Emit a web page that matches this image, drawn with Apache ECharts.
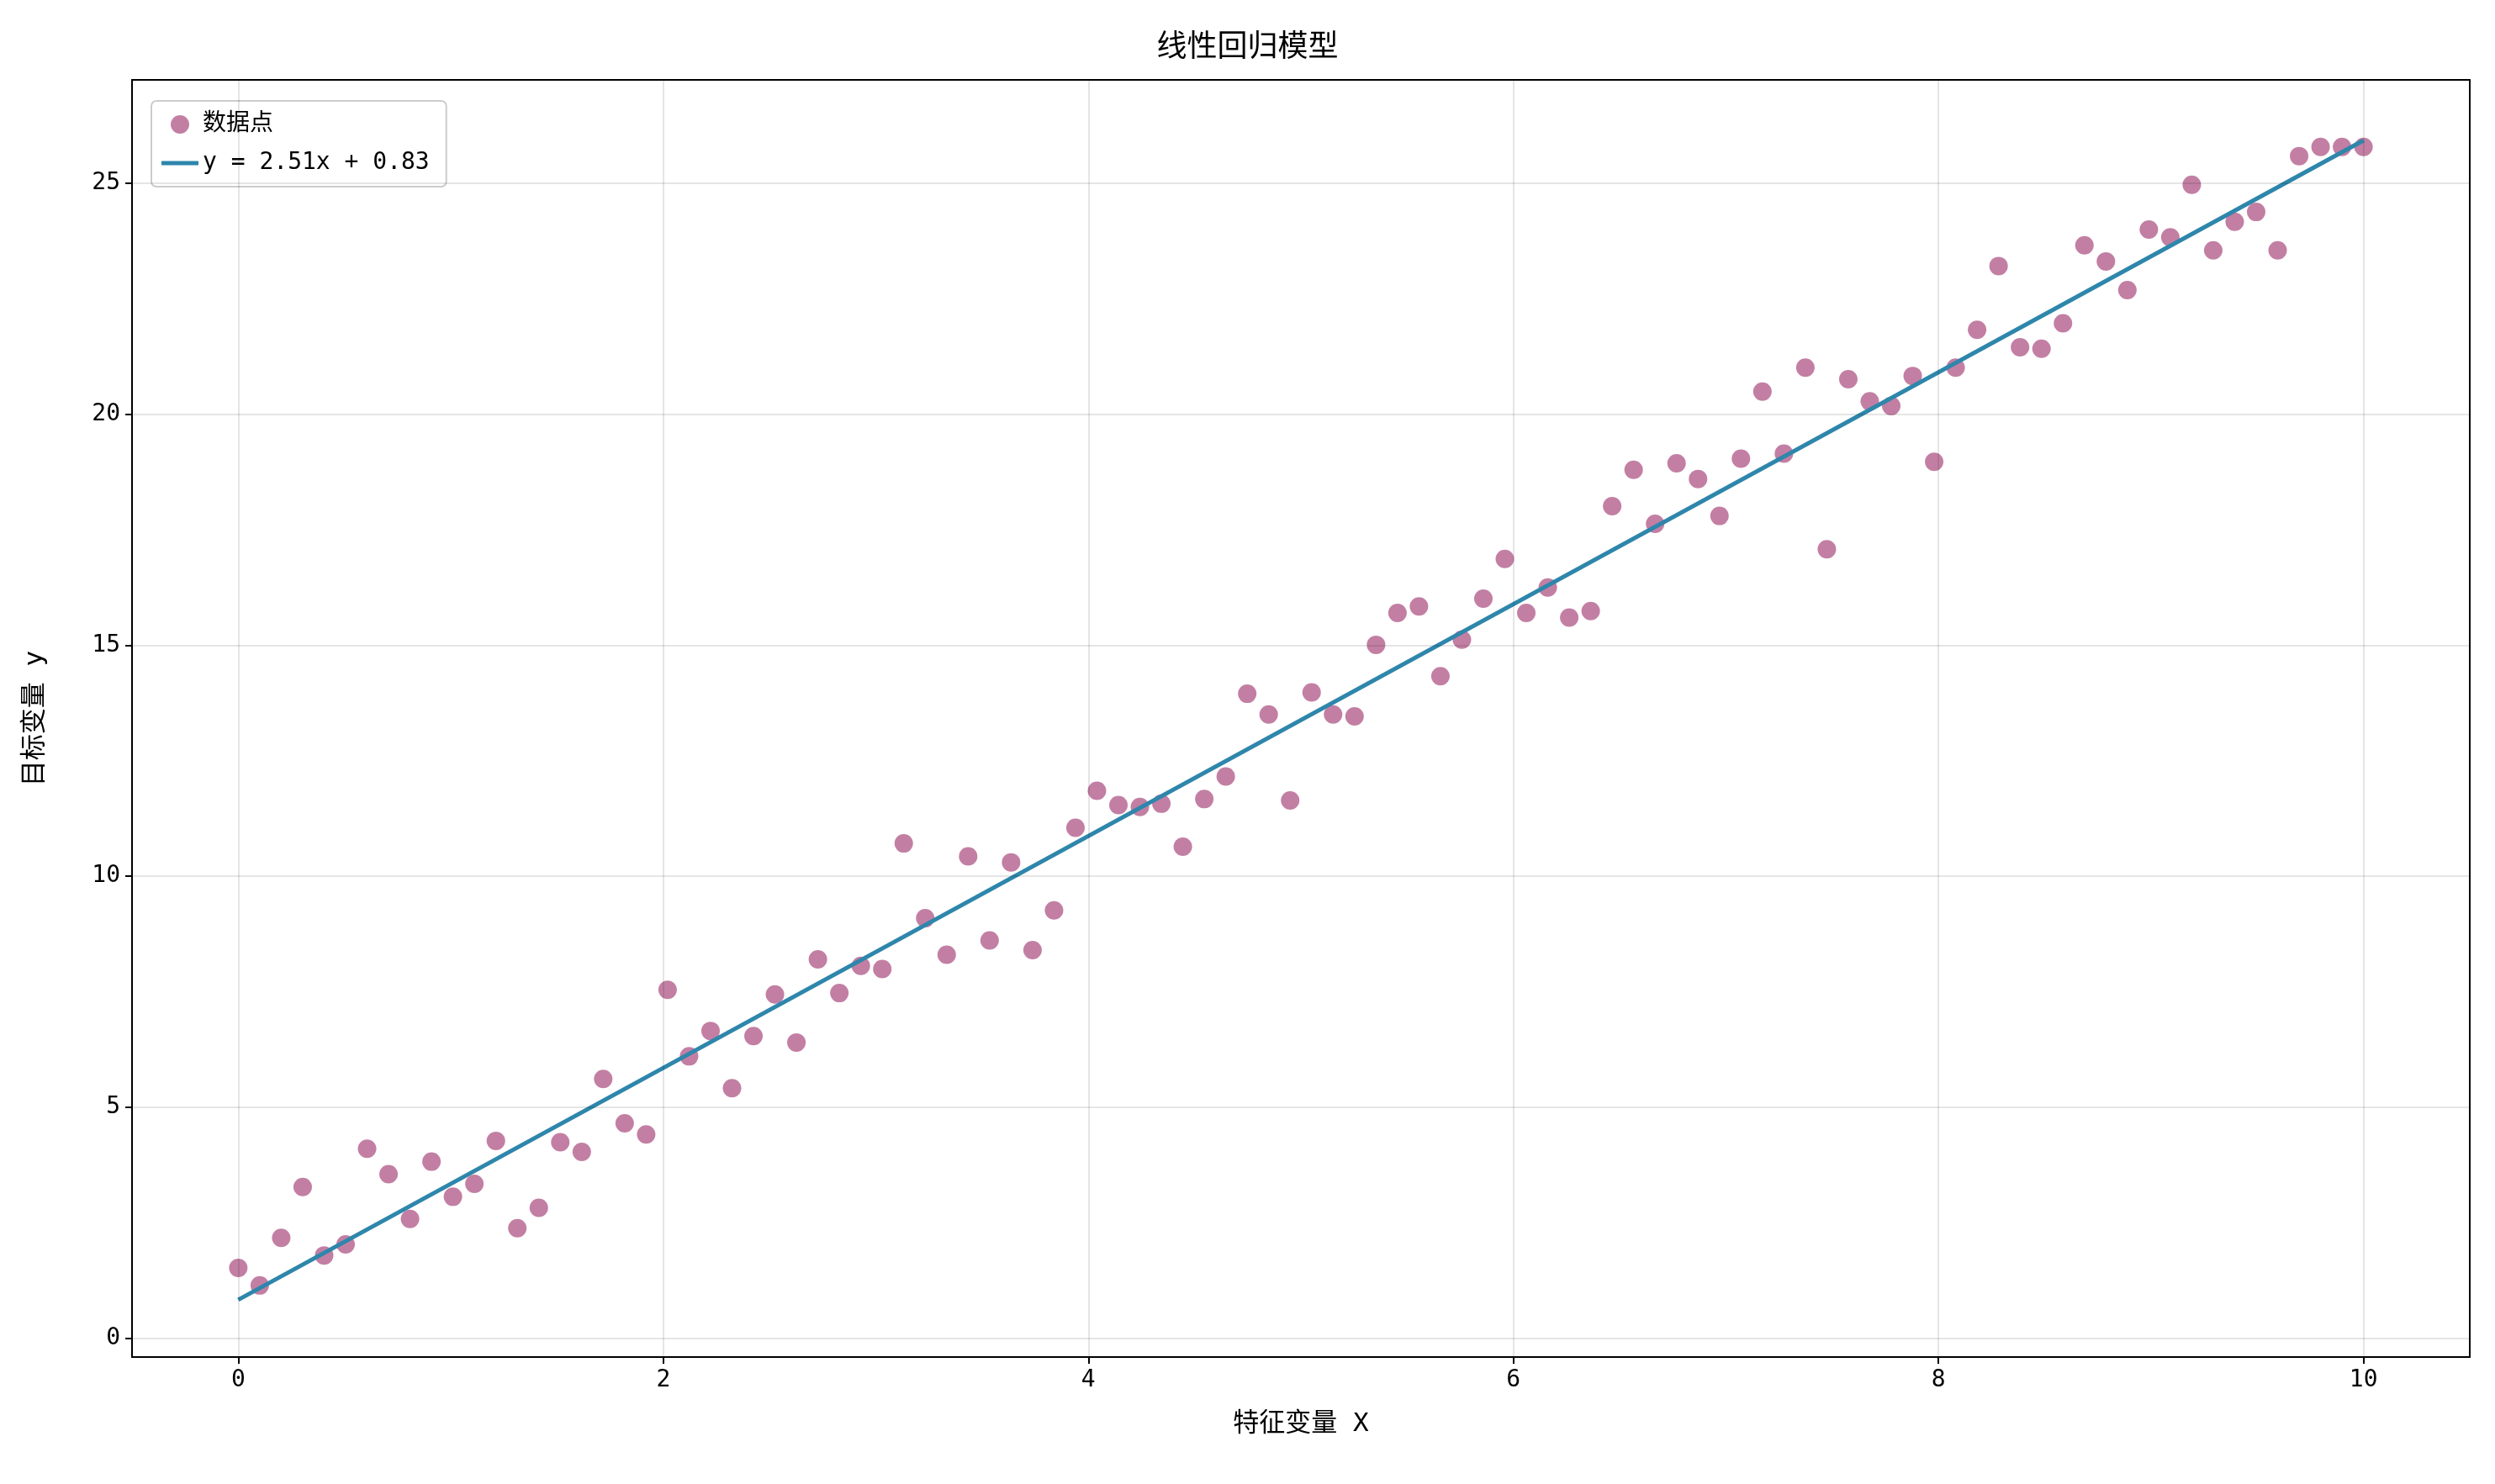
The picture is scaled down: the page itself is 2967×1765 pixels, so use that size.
<!DOCTYPE html>
<html><head><meta charset="utf-8">
<script src="https://cdn.jsdelivr.net/npm/echarts@6/dist/echarts.min.js"></script>
<style>html,body{margin:0;padding:0;background:#fff}#c{width:2967px;height:1765px}</style>
</head><body><div id="c"></div>
<script>
const yValues = [1.52,1.14,2.17,3.27,1.79,2.03,4.10,3.55,2.58,3.82,3.06,3.34,4.27,2.38,2.82,4.24,4.03,5.61,4.65,4.41,
7.54,6.10,6.65,5.41,6.54,7.44,6.40,8.20,7.47,8.06,7.99,10.71,9.09,8.30,10.43,8.61,10.30,8.40,9.26,11.05,
11.85,11.54,11.50,11.57,10.64,11.67,12.16,13.95,13.50,11.64,13.98,13.50,13.46,15.01,15.70,15.84,14.33,15.12,16.01,16.87,
15.70,16.25,15.60,15.74,18.01,18.80,17.63,18.94,18.60,17.80,19.04,20.49,19.15,21.01,17.08,20.76,20.28,20.18,20.83,18.97,
21.01,21.83,23.21,21.45,21.42,21.97,23.66,23.31,22.69,24.00,23.83,24.97,23.55,24.17,24.38,23.55,25.59,25.79,25.79,25.79];
const xValues = yValues.map((_, i) => i * 10 / 99);
const slope = 2.51, intercept = 0.83;
const xTicks = [0,2,4,6,8,10];
const yTicks = [0,5,10,15,20,25];
const font = '"DejaVu Sans Mono", "Noto Sans CJK SC", monospace';
const chart = echarts.init(document.getElementById('c'));
const frame = {lineStyle:{color:'#000',width:2}};
chart.setOption({
  animation:false,
  textStyle:{fontFamily:font},
  title:{text:'线性回归模型',left:'center',top:30,textStyle:{fontFamily:'"Noto Sans CJK SC"',fontSize:36,fontWeight:'normal',color:'#000'}},
  grid:{left:157,right:30,top:95,bottom:151},
  legend:{orient:'vertical',left:180,top:120,itemGap:18,itemWidth:44,itemHeight:22,
    backgroundColor:'#fff',borderColor:'#ccc',borderWidth:2,borderRadius:6,padding:[14,20,14,12],
    textStyle:{fontFamily:font,fontSize:28,color:'#000'},
    data:[{name:'数据点',icon:'circle'},{name:'y = 2.51x + 0.83',icon:'path://M0,0 H44 V5 H0 Z'}]},
  xAxis:[{type:'value',min:-0.5,max:10.5,name:'特征变量 X',nameLocation:'middle',nameGap:64,
    nameTextStyle:{fontFamily:font,fontSize:31,color:'#000'},
    axisLine:{onZero:false,...frame},
    axisTick:{customValues:xTicks,length:8,lineStyle:{color:'#000',width:2}},
    axisLabel:{customValues:xTicks,fontSize:28,color:'#000',margin:14,fontFamily:font},
    splitLine:{show:false}},
    {type:'value',position:'top',min:-0.5,max:10.5,axisLine:{show:true,onZero:false,...frame},axisTick:{show:false},axisLabel:{show:false},splitLine:{show:false}}],
  yAxis:[{type:'value',min:-0.41,max:27.24,name:'目标变量 y',nameLocation:'middle',nameGap:100,
    nameTextStyle:{fontFamily:font,fontSize:31,color:'#000'},
    axisLine:{show:true,onZero:false,...frame},
    axisTick:{show:true,customValues:yTicks,length:8,lineStyle:{color:'#000',width:2}},
    axisLabel:{customValues:yTicks,fontSize:28,color:'#000',margin:14,fontFamily:font},
    splitLine:{show:false}},
    {type:'value',position:'right',min:-0.41,max:27.24,axisLine:{show:true,onZero:false,...frame},axisTick:{show:false},axisLabel:{show:false},splitLine:{show:false}}],
  series:[
    {name:'grid',type:'line',data:[],silent:true,
      markLine:{symbol:'none',silent:true,label:{show:false},lineStyle:{color:'#000',opacity:0.1,type:'solid',width:2},
        data:xTicks.map(v=>({xAxis:v})).concat(yTicks.map(v=>({yAxis:v})))}},
    {name:'数据点',type:'scatter',symbolSize:22,z:3,
      itemStyle:{color:'#A23B72',opacity:0.65},
      data:xValues.map((x,i)=>[x,yValues[i]])},
    {name:'y = 2.51x + 0.83',type:'line',symbol:'none',z:4,
      lineStyle:{color:'#2E86AB',width:5},itemStyle:{color:'#2E86AB'},
      data:[[0,intercept],[10,slope*10+intercept]]}
  ]
});
</script></body></html>
